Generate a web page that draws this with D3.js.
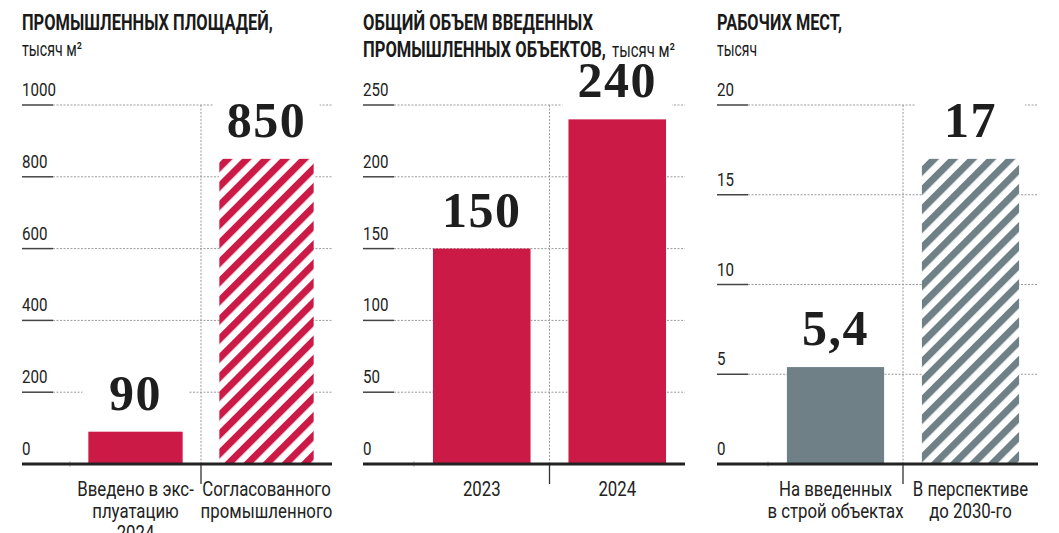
<!DOCTYPE html>
<html>
<head>
<meta charset="utf-8">
<script src="https://cdn.jsdelivr.net/npm/d3@7"></script>
<style>
  body { margin: 0; background: #fff; }
  svg { display: block; }
  .sans { font-family: Roboto, "Noto Sans", sans-serif; }
  .serif { font-family: "Liberation Serif", "DejaVu Serif", serif; font-weight: bold; }
</style>
</head>
<body>
<div id="container"></div>
<script>
// data
var areaCats = [["Введено в экс-", "плуатацию", "2024"], ["Согласованного", "промышленного"]];
var areaValues = [90, 850];
var areaLabels = ["90", "850"];
var areaTicks = [0, 200, 400, 600, 800, 1000];

var volumeCats = [["2023"], ["2024"]];
var volumeValues = [150, 240];
var volumeLabels = ["150", "240"];
var volumeTicks = [0, 50, 100, 150, 200, 250];

var jobsCats = [["На введенных", "в строй объектах"], ["В перспективе", "до 2030-го"]];
var jobsValues = [5.4, 17];
var jobsLabels = ["5,4", "17"];
var jobsTicks = [0, 5, 10, 15, 20];

var red = "#cc1a46", grey = "#6f8187";

var width = 1059, height = 533;
var squeeze = 0.84; // no condensed font installed, so narrow the sans text by hand

var svg = d3.select("#container")
  .append("svg")
    .attr("width", width)
    .attr("height", height);

svg.append("rect").attr("width", width).attr("height", height).attr("fill", "#fff");

// hatch patterns
var defs = svg.append("defs");
function hatch(id, color) {
  var p = defs.append("pattern")
    .attr("id", id)
    .attr("patternUnits", "userSpaceOnUse")
    .attr("width", 13.5)
    .attr("height", 13.5)
    .attr("patternTransform", "rotate(45)");
  p.append("rect").attr("width", 13.5).attr("height", 13.5).attr("fill", "#fff");
  p.append("rect").attr("width", 7).attr("height", 13.5).attr("fill", color);
}
hatch("hatchRed", red);
hatch("hatchGrey", grey);

// narrow text: a group moved to (x, y) and squeezed horizontally
function narrowText(parent, xp, yp, size) {
  return parent.append("g")
    .attr("transform", "translate(" + xp + "," + yp + ") scale(" + squeeze + ",1)")
    .append("text")
      .attr("class", "sans")
      .attr("font-size", size)
      .attr("fill", "#222");
}

var panels = [
  {cats: areaCats, values: areaValues, labels: areaLabels, ticks: areaTicks,
   x0: 22, bandStart: 70, x1: 332, fills: [red, "url(#hatchRed)"]},
  {cats: volumeCats, values: volumeValues, labels: volumeLabels, ticks: volumeTicks,
   x0: 363, bandStart: 414, x1: 685, fills: [red, red]},
  {cats: jobsCats, values: jobsValues, labels: jobsLabels, ticks: jobsTicks,
   x0: 717, bandStart: 768, x1: 1038, fills: [grey, "url(#hatchGrey)"]}
];

var yTop = 105, yBase = 464;

panels.forEach(function(p) {
  var g = svg.append("g");
  var y = d3.scaleLinear()
    .domain([0, d3.max(p.ticks)])
    .range([yBase, yTop]);
  var x = d3.scaleBand()
    .domain(d3.range(p.values.length))
    .range([p.bandStart, p.x1])
    .paddingInner(0.28)
    .paddingOuter(0.14);

  // gridlines
  p.ticks.forEach(function(t) {
    if (t > 0) {
      g.append("line")
        .attr("x1", p.x0 + 31).attr("x2", p.x1)
        .attr("y1", y(t)).attr("y2", y(t))
        .attr("stroke", "#9a9a9a")
        .attr("stroke-width", 1)
        .attr("stroke-dasharray", "2,1.5");
      g.append("line")
        .attr("x1", p.x0).attr("x2", p.x0 + 31)
        .attr("y1", y(t)).attr("y2", y(t))
        .attr("stroke", "#444")
        .attr("stroke-width", 1.5);
    }
    narrowText(g, p.x0, y(t) - 9, 18).text(t);
  });

  // separator between categories
  var mid = (p.bandStart + p.x1) / 2;
  g.append("line")
    .attr("x1", mid).attr("x2", mid)
    .attr("y1", yTop).attr("y2", yBase)
    .attr("stroke", "#9a9a9a")
    .attr("stroke-dasharray", "2,1.5");
  g.append("line")
    .attr("x1", mid).attr("x2", mid)
    .attr("y1", yBase).attr("y2", yBase + 20)
    .attr("stroke", "#333")
    .attr("stroke-width", 1.3);
  g.append("line")
    .attr("x1", p.bandStart).attr("x2", p.bandStart)
    .attr("y1", yBase - 3).attr("y2", yBase + 3)
    .attr("stroke", "#bbb");

  // bars
  g.selectAll(".bar")
    .data(p.values)
    .enter()
    .append("rect")
      .attr("x", (d, i) => x(i))
      .attr("y", d => y(d))
      .attr("width", x.bandwidth())
      .attr("height", d => yBase - y(d))
      .attr("fill", (d, i) => p.fills[i]);

  // baseline
  g.append("line")
    .attr("x1", p.x0).attr("x2", p.x1)
    .attr("y1", yBase).attr("y2", yBase)
    .attr("stroke", "#222")
    .attr("stroke-width", 3);

  // value labels with white box over grid
  p.values.forEach(function(v, i) {
    g.append("rect")
      .attr("x", x(i) - 6)
      .attr("y", y(v) - 62)
      .attr("width", x.bandwidth() + 12)
      .attr("height", 52)
      .attr("fill", "#fff");
    g.append("text")
      .attr("class", "serif")
      .attr("x", x(i) + x.bandwidth() / 2)
      .attr("y", y(v) - 22)
      .attr("text-anchor", "middle")
      .attr("font-size", 50)
      .attr("letter-spacing", 1.5)
      .attr("fill", "#1e1e1e")
      .text(p.labels[i]);
  });

  // category labels
  p.cats.forEach(function(lines, i) {
    var t = narrowText(g, x(i) + x.bandwidth() / 2, 496, 20)
      .attr("text-anchor", "middle");
    lines.forEach(function(line, k) {
      t.append("tspan")
        .attr("x", 0)
        .attr("y", k * 22)
        .text(line);
    });
  });
});

// titles, squeezed to the widths of the original lettering
function title(xp, yp, txt, size, weight, len) {
  var g = svg.append("g");
  var t = g.append("text")
    .attr("class", "sans")
    .attr("font-size", size)
    .attr("font-weight", weight)
    .attr("fill", "#1a1a1a")
    .text(txt);
  var sx = len / t.node().getComputedTextLength();
  g.attr("transform", "translate(" + xp + "," + yp + ") scale(" + sx + ",1)");
  return t;
}
title(22, 30, "ПРОМЫШЛЕННЫХ ПЛОЩАДЕЙ,", 22, "bold", 251);
title(22, 56, "тысяч м²", 20, "normal", 60);

title(363, 30, "ОБЩИЙ ОБЪЕМ ВВЕДЕННЫХ", 22, "bold", 230);
title(363, 57, "ПРОМЫШЛЕННЫХ ОБЪЕКТОВ,", 22, "bold", 243);
title(612, 57, "тысяч м²", 20, "normal", 63);

title(717, 30, "РАБОЧИХ МЕСТ,", 22, "bold", 125);
title(717, 56, "тысяч", 20, "normal", 40);
</script>
</body>
</html>
